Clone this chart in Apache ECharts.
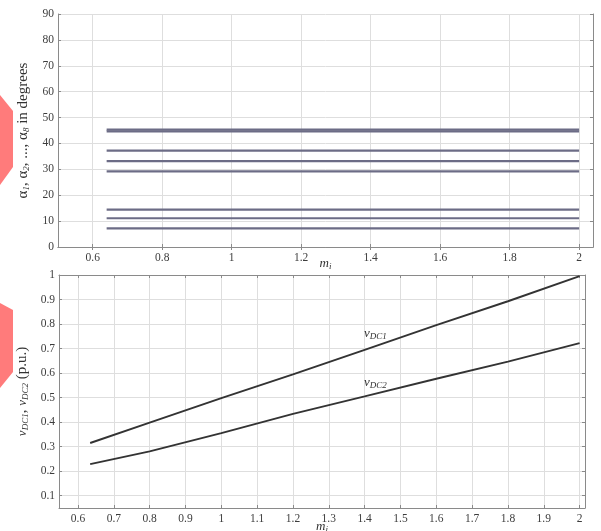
<!DOCTYPE html>
<html><head><meta charset="utf-8">
<script src="https://cdn.jsdelivr.net/npm/echarts@6/dist/echarts.min.js"></script>
<style>html,body{margin:0;padding:0;background:#fff}#c{width:601px;height:531px}</style>
</head><body><div id="c"></div>
<script>
// ---- data ----
const topTicksX = [0.6, 0.8, 1.0, 1.2, 1.4, 1.6, 1.8, 2.0];
const botTicksX = [0.6, 0.7, 0.8, 0.9, 1.0, 1.1, 1.2, 1.3, 1.4, 1.5, 1.6, 1.7, 1.8, 1.9, 2.0];
const botTicksY = [0.1, 0.2, 0.3, 0.4, 0.5, 0.6, 0.7, 0.8, 0.9, 1.0];
const alphaRange = [0.64, 2.0];
const alphaValues = [45.3, 44.7, 37.2, 33.2, 29.2, 14.4, 11.1, 7.2];
const mIndex = [0.634, 0.8, 1.0, 1.2, 1.4, 1.6, 1.8, 2.0];
const vdc1 = [0.315, 0.398, 0.498, 0.595, 0.695, 0.796, 0.893, 0.995];
const vdc2 = [0.229, 0.281, 0.355, 0.434, 0.505, 0.577, 0.647, 0.722];

const serif = '"Liberation Serif", "DejaVu Serif", serif';
const labelStyle = {fontFamily: serif, fontSize: 11.5, color: '#3c3c3c'};
const frame = {show: true, lineStyle: {color: '#8a8a8a', width: 1}};
const grid = {show: true, lineStyle: {color: '#dedede', width: 1}};
const nameRich = {
  i: {fontFamily: serif, fontStyle: 'italic', fontSize: 13, color: '#333'},
  s: {fontFamily: serif, fontStyle: 'italic', fontSize: 9, color: '#333', verticalAlign: 'bottom', padding: [6, 0, 0, 0]},
  n: {fontFamily: serif, fontSize: 15, color: '#333'}
};

function mainX(gi, min, max, ticks, nameGap) {
  return {type: 'value', gridIndex: gi, min: min, max: max,
    name: '{i|m}{s|i}', nameLocation: 'middle', nameGap: nameGap, nameMoveOverlap: false,
    nameTextStyle: {rich: nameRich},
    axisLine: frame, axisTick: {show: true, inside: true, length: 3, customValues: ticks, lineStyle: {color: '#8a8a8a'}},
    axisLabel: Object.assign({customValues: ticks, margin: 5, formatter: v => String(+v.toFixed(2))}, labelStyle),
    splitLine: grid};
}
function mirrorX(gi, min, max, ticks) {
  return {type: 'value', gridIndex: gi, position: 'top', min: min, max: max,
    axisLine: frame, axisTick: {show: true, inside: true, length: 3, customValues: ticks, lineStyle: {color: '#8a8a8a'}},
    axisLabel: {show: false, customValues: ticks}, splitLine: {show: false}};
}

const series = [];
alphaValues.forEach(a => {
  series.push({type: 'line', xAxisIndex: 0, yAxisIndex: 0, showSymbol: false, silent: true,
    data: [[alphaRange[0], a], [alphaRange[1], a]],
    lineStyle: {color: '#6c6c86', width: 2.2}});
});
const markLbl = (txt, coord) => ({
  symbol: 'circle', symbolSize: 1, itemStyle: {color: 'rgba(0,0,0,0)'}, silent: true,
  label: {show: true, position: 'inside', formatter: txt, rich: nameRich},
  data: [{coord: coord, value: 0}]
});
series.push({type: 'line', xAxisIndex: 1, yAxisIndex: 1, showSymbol: false,
  data: mIndex.map((m, k) => [m, vdc1[k]]), lineStyle: {color: '#333', width: 1.9},
  markPoint: markLbl('{i|v}{s|DC1}', [1.43, 0.762])});
series.push({type: 'line', xAxisIndex: 1, yAxisIndex: 1, showSymbol: false,
  data: mIndex.map((m, k) => [m, vdc2[k]]), lineStyle: {color: '#333', width: 1.9},
  markPoint: markLbl('{i|v}{s|DC2}', [1.43, 0.562])});

const chart = echarts.init(document.getElementById('c'), null, {renderer: 'canvas'});
chart.setOption({
  animation: false,
  backgroundColor: '#fff',
  grid: [
    {left: 58, top: 14, right: 8, height: 233, outerBoundsMode: 'none', containLabel: false},
    {left: 59, top: 275, right: 16, height: 233, outerBoundsMode: 'none', containLabel: false}
  ],
  xAxis: [
    mainX(0, 0.5, 2.04, topTicksX, 9),
    mainX(1, 0.547, 2.015, botTicksX, 11),
    mirrorX(0, 0.5, 2.04, topTicksX),
    mirrorX(1, 0.547, 2.015, botTicksX)
  ],
  yAxis: [
    {type: 'value', gridIndex: 0, min: 0, max: 90, interval: 10,
      name: '{n|α}{s|1}{n|, α}{s|2}{n|, ..., α}{s|8}{n| in degrees}', nameLocation: 'middle', nameGap: 27,
      nameTextStyle: {rich: nameRich},
      axisLine: frame, axisTick: {show: true, inside: true, length: 3, lineStyle: {color: '#8a8a8a'}},
      axisLabel: Object.assign({margin: 4}, labelStyle), splitLine: grid},
    {type: 'value', gridIndex: 1, min: 0.05, max: 1,
      name: '{i|v}{s|DC1}{n|, }{i|v}{s|DC2}{n| (p.u.)}', nameLocation: 'middle', nameGap: 29,
      nameTextStyle: {rich: nameRich},
      axisLine: frame, axisTick: {show: true, inside: true, length: 3, customValues: botTicksY, lineStyle: {color: '#8a8a8a'}},
      axisLabel: Object.assign({margin: 4, customValues: botTicksY, formatter: v => String(+v.toFixed(2))}, labelStyle), splitLine: grid},
    {type: 'value', gridIndex: 0, position: 'right', min: 0, max: 90, interval: 10,
      axisLine: frame, axisTick: {show: true, inside: true, length: 3, lineStyle: {color: '#8a8a8a'}},
      axisLabel: {show: false}, splitLine: {show: false}},
    {type: 'value', gridIndex: 1, position: 'right', min: 0.05, max: 1,
      axisLine: frame, axisTick: {show: true, inside: true, length: 3, customValues: botTicksY, lineStyle: {color: '#8a8a8a'}},
      axisLabel: {show: false, customValues: botTicksY}, splitLine: {show: false}}
  ],
  graphic: [
    {type: 'polygon', shape: {points: [[0, 95], [13, 111], [13, 167], [0, 185]]}, style: {fill: '#ff7b7b'}, silent: true},
    {type: 'polygon', shape: {points: [[0, 303], [13, 310], [13, 372], [0, 388]]}, style: {fill: '#ff7b7b'}, silent: true}
  ],
  series: series
});
</script></body></html>
